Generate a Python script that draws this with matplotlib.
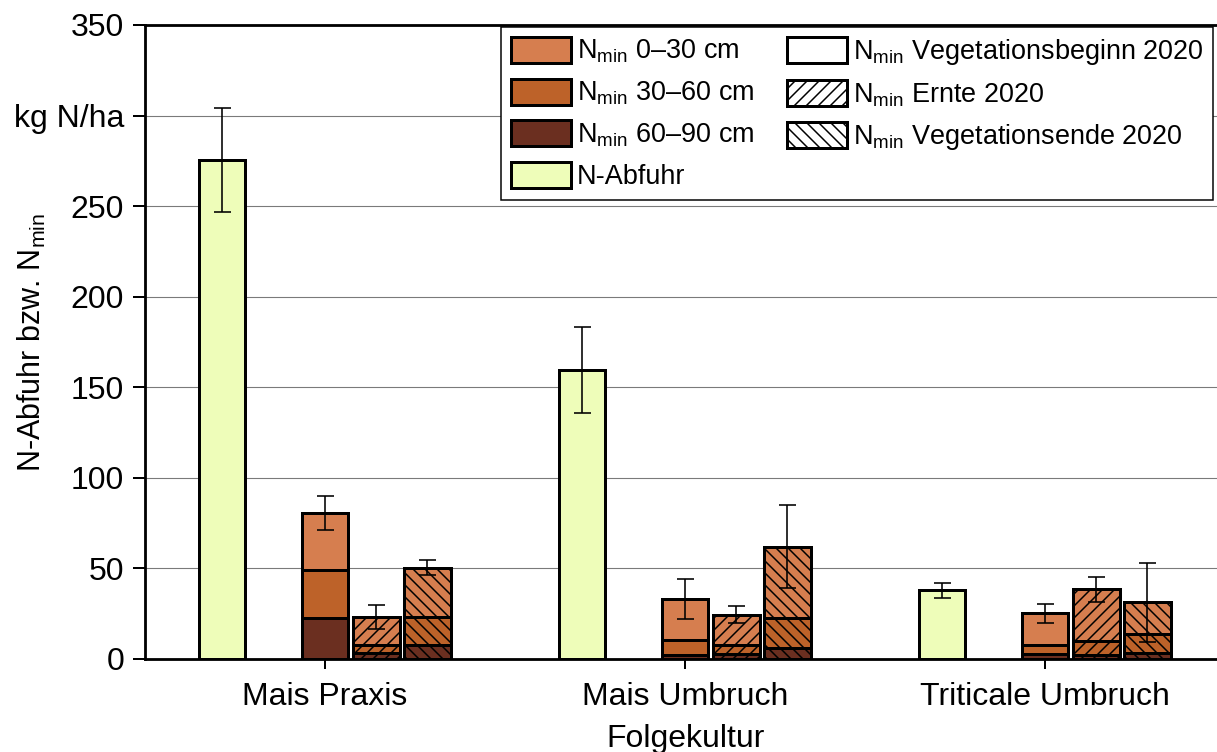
import matplotlib
matplotlib.use("Agg")
import matplotlib.pyplot as plt
from matplotlib.patches import Patch
import numpy as np

plt.rcParams["font.family"] = ["Liberation Sans", "DejaVu Sans"]
plt.rcParams["mathtext.fontset"] = "custom"
plt.rcParams["mathtext.rm"] = "Liberation Sans"
plt.rcParams["mathtext.default"] = "regular"
plt.rcParams["hatch.linewidth"] = 1.5

# --- data -------------------------------------------------------------
groups = ["Mais Praxis", "Mais Umbruch", "Triticale Umbruch"]

# N-Abfuhr per crop (kg N/ha) with standard deviation
abfuhr = [275.5, 159.5, 38.0]
abfuhr_err = [28.5, 23.7, 4.2]

# Nmin sampling dates (rows) x crops (columns)
dates = ["Vegetationsbeginn 2020", "Ernte 2020", "Vegetationsende 2020"]
nmin_60_90 = [[22.7, 2.0, 2.6],
              [3.1, 2.9, 2.0],
              [7.6, 5.9, 3.1]]
nmin_30_60 = [[26.4, 8.5, 5.1],
              [4.6, 4.7, 7.9],
              [15.8, 16.9, 10.5]]
nmin_0_30 = [[31.6, 22.6, 17.5],
             [15.5, 16.9, 28.6],
             [27.0, 39.2, 17.7]]
nmin_err = [[9.5, 10.9, 5.4],
            [6.4, 4.6, 6.9],
            [4.2, 22.8, 21.7]]

yticks = [0, 50, 100, 150, 200, 250, 300, 350]
ytick_labels = ["0", "50", "100", "150", "200", "250", "kg N/ha", "350"]

# --- styling ----------------------------------------------------------
c_0_30 = "#D67E4F"
c_30_60 = "#BD6229"
c_60_90 = "#6B2F20"
c_abfuhr = "#EEFDB9"
date_hatches = ["", "//", "\\\\"]
edge_lw = 3
bar_w = 0.13
abfuhr_off = -0.286
date_offs = [0.0, 0.142, 0.284]
err_kw = dict(fmt="none", ecolor="black", elinewidth=1.6, capsize=8.5, capthick=1.6, zorder=5)

W, H = 1217, 752
fig = plt.figure(figsize=(W / 72, H / 72), dpi=72)
ax = fig.add_axes([145 / W, 93 / H, (1240 - 145) / W, 634 / H])

x = np.arange(len(groups))

# N-Abfuhr bars
ax.bar(x + abfuhr_off, abfuhr, width=bar_w, color=c_abfuhr,
       edgecolor="black", linewidth=edge_lw, zorder=3)
ax.errorbar(x + abfuhr_off, abfuhr, yerr=abfuhr_err, **err_kw)

# stacked Nmin bars for each sampling date
for d in range(len(dates)):
    xs = x + date_offs[d]
    l1 = np.array(nmin_60_90[d])
    l2 = np.array(nmin_30_60[d])
    l3 = np.array(nmin_0_30[d])
    h = date_hatches[d]
    ax.bar(xs, l1, width=bar_w, color=c_60_90, edgecolor="black",
           linewidth=edge_lw, hatch=h, zorder=3)
    ax.bar(xs, l2, bottom=l1, width=bar_w, color=c_30_60, edgecolor="black",
           linewidth=edge_lw, hatch=h, zorder=3)
    ax.bar(xs, l3, bottom=l1 + l2, width=bar_w, color=c_0_30, edgecolor="black",
           linewidth=edge_lw, hatch=h, zorder=3)
    ax.errorbar(xs, l1 + l2 + l3, yerr=nmin_err[d], **err_kw)

# axes
ax.set_xlim(-0.5, -0.5 + 1095 / 360)
ax.set_ylim(0, 350)
ax.set_yticks(yticks)
ax.set_yticklabels(ytick_labels)
ax.set_xticks(x)
ax.set_xticklabels(groups)
ax.tick_params(axis="both", direction="out", labelsize=32, width=2,
               color="black")
ax.tick_params(axis="y", length=12, pad=9)
ax.tick_params(axis="x", length=10, pad=13)
ax.yaxis.grid(True, color="#7a7a7a", linewidth=1.1)
ax.set_axisbelow(True)
ax.spines["right"].set_visible(False)
for s in ("left", "top", "bottom"):
    ax.spines[s].set_linewidth(2.8)
    ax.spines[s].set_color("black")

ax.set_ylabel(r"N-Abfuhr bzw. N$_{min}$", fontsize=30.5, va="center")
ax.yaxis.set_label_coords((32 - 145) / 1095, 0.5)
ax.set_xlabel("Folgekultur", fontsize=32, va="center")
ax.xaxis.set_label_coords((686 - 145) / 1095, -(739 - 659) / 634)

# legend
nm = r"N$_{min}$ "
handles = [
    Patch(facecolor=c_0_30, edgecolor="black", linewidth=edge_lw, label=nm + "0–30 cm"),
    Patch(facecolor=c_30_60, edgecolor="black", linewidth=edge_lw, label=nm + "30–60 cm"),
    Patch(facecolor=c_60_90, edgecolor="black", linewidth=edge_lw, label=nm + "60–90 cm"),
    Patch(facecolor=c_abfuhr, edgecolor="black", linewidth=edge_lw, label="N-Abfuhr"),
]
for d in range(len(dates)):
    handles.append(Patch(facecolor="white", edgecolor="black", linewidth=edge_lw,
                         hatch=date_hatches[d], label=nm + dates[d]))
leg = ax.legend(handles=handles, ncol=2, loc="upper right",
                bbox_to_anchor=(1213 / W, 1 - 27 / H), bbox_transform=fig.transFigure,
                borderaxespad=0, fontsize=27, frameon=True, fancybox=False,
                edgecolor="black", framealpha=1, handlelength=2.25, handleheight=1.1,
                handletextpad=0.2, columnspacing=1.2, labelspacing=0.49,
                borderpad=0.36)
leg.get_frame().set_linewidth(1.5)

fig.savefig("out.png", dpi=72)
